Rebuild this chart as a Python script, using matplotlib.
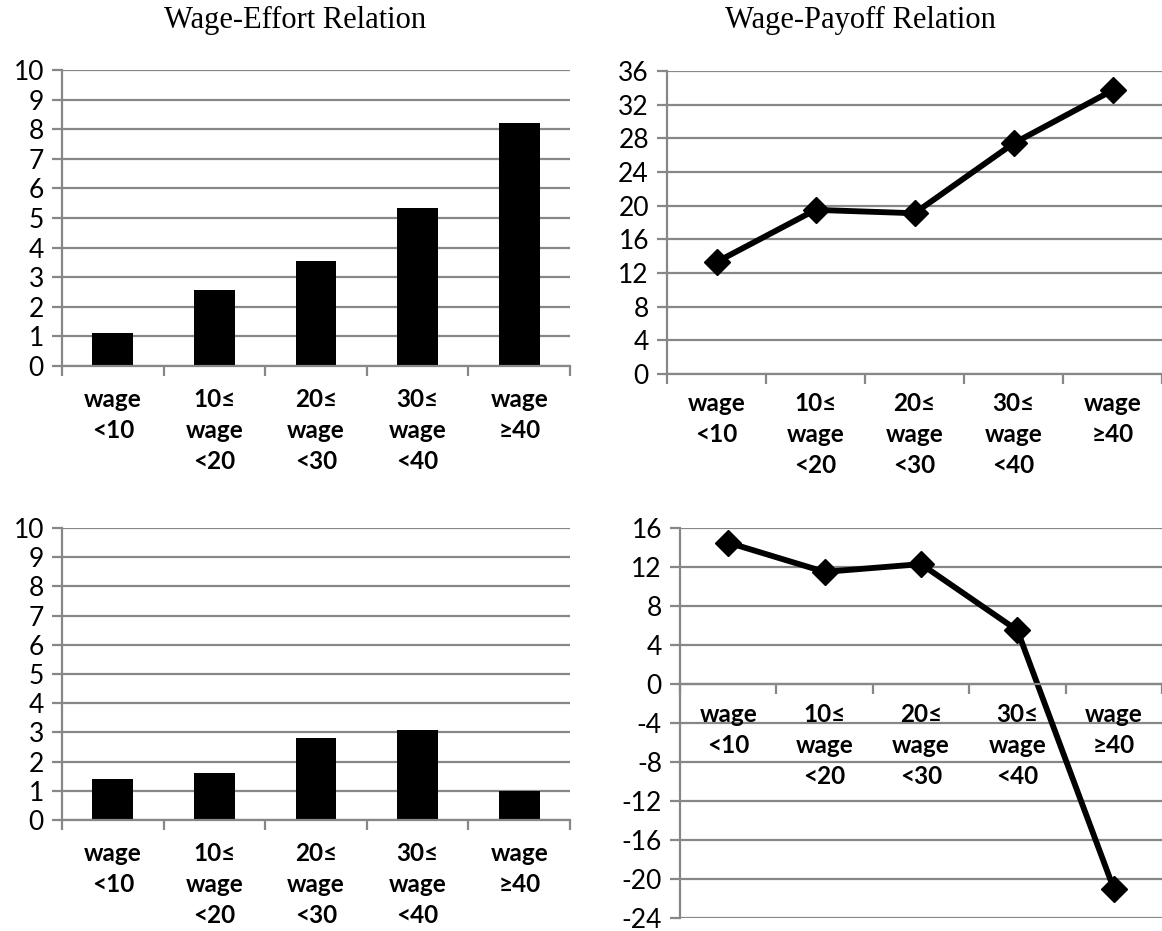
import numpy as np
import matplotlib.pyplot as plt

categories = ["wage\n<10", "10≤\nwage\n<20", "20≤\nwage\n<30", "30≤\nwage\n<40", "wage\n≥40"]
effort_top = [1.12, 2.58, 3.55, 5.35, 8.2]
payoff_top = [13.3, 19.5, 19.1, 27.4, 33.7]
effort_bottom = [1.4, 1.6, 2.8, 3.07, 1.0]
payoff_bottom = [14.5, 11.5, 12.3, 5.5, -21.0]

grid_col = "#878787"
plt.rcParams['font.family'] = ["Lato", "DejaVu Sans"]
plt.rcParams['axes.unicode_minus'] = False

W, H = 1162, 931
fig = plt.figure(figsize=(W / 100, H / 100), dpi=100)


def px_axes(x0, x1, ytop, ybot):
    return fig.add_axes([x0 / W, 1 - ybot / H, (x1 - x0) / W, (ybot - ytop) / H])


def style(ax, ymin, ymax, step, zero_axis=False):
    x = np.arange(len(categories))
    ax.set_xlim(-0.5, len(categories) - 0.5)
    ax.set_ylim(ymin, ymax)
    ax.set_yticks(np.arange(ymin, ymax + step / 2, step))
    ax.yaxis.grid(True, color=grid_col, linewidth=1.6)
    ax.set_axisbelow(True)
    for s in ["top", "right"]:
        ax.spines[s].set_visible(False)
    ax.spines["left"].set_color(grid_col)
    ax.spines["left"].set_linewidth(1.6)
    ax.spines["bottom"].set_color(grid_col)
    ax.spines["bottom"].set_linewidth(1.6)
    if zero_axis:
        ax.spines["bottom"].set_position(("data", 0))
        ax.xaxis.set_zorder(0.7)  # labels over the grid
    # category labels centred, tick marks at the boundaries
    ax.set_xticks(np.arange(-0.5, len(categories) + 0.5, 1.0))
    ax.set_xticklabels([])
    ax.set_xticks(x, minor=True)
    ax.set_xticklabels(categories, minor=True, fontsize=17.5, fontweight="bold",
                       linespacing=1.42, va="top")
    ax.tick_params(axis="x", which="major", direction="out", length=7,
                   width=1.6, color=grid_col)
    ax.tick_params(axis="x", which="minor", length=0, pad=16)
    ax.tick_params(axis="y", direction="out", length=7, width=1.6,
                   color=grid_col, labelsize=19, pad=6)


# top-left: effort bars
ax1 = px_axes(62, 570, 70, 366)
ax1.bar(np.arange(5), effort_top, width=0.4, color="black")
style(ax1, 0, 10, 1)

# top-right: payoff line
ax2 = px_axes(667, 1162, 71, 374)
ax2.plot(np.arange(5), payoff_top, color="black", linewidth=4.2, marker="D",
         markersize=13, clip_on=False)
style(ax2, 0, 36, 4)
ax2.tick_params(axis="x", which="minor", pad=13)

# bottom-left: effort bars
ax3 = px_axes(62, 570, 528, 820)
ax3.bar(np.arange(5), effort_bottom, width=0.4, color="black")
style(ax3, 0, 10, 1)

# bottom-right: payoff line, x axis at zero
ax4 = px_axes(680, 1162, 528, 918)
ax4.plot(np.arange(5), payoff_bottom, color="black", linewidth=4.2, marker="D",
         markersize=13, clip_on=False, zorder=1)
style(ax4, -24, 16, 4, zero_axis=True)
ax4.tick_params(axis="x", which="minor", pad=14)

fig.text(295 / W, 1 - 20 / H, "Wage-Effort Relation", ha="center", va="center",
         family="Liberation Serif", fontsize=22)
fig.text(860 / W, 1 - 20 / H, "Wage-Payoff Relation", ha="center", va="center",
         family="Liberation Serif", fontsize=22)

fig.savefig("out.png", dpi=100)
